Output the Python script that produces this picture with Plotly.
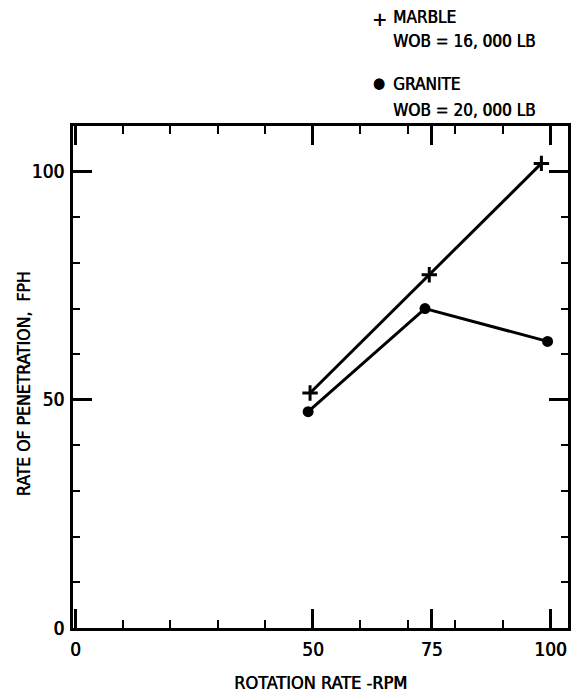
import plotly.graph_objects as go

# Data
rpm_marble = [49.4, 74.5, 98.1]
rop_marble = [51.5, 77.4, 101.8]
rpm_granite = [49.0, 73.6, 99.4]
rop_granite = [47.4, 70.0, 62.8]

marble_name = "MARBLE"
marble_wob = "WOB = 16, 000 LB"
granite_name = "GRANITE"
granite_wob = "WOB = 20, 000 LB"

x_tickvals = [0, 50, 75, 100]
x_ticktext = ["0", "50", "75", "100"]
y_tickvals = [0, 50, 100]
y_ticktext = ["0", "50", "100"]

FONT = "Liberation Sans Narrow, DejaVu Sans Condensed, Arial Narrow, sans-serif"
SH = "0.6px 0px 0px black"
TICKF = dict(family=FONT, size=19, color="black", shadow=SH)
XTF = dict(family=FONT, size=18, color="black", shadow=SH)
YTF = dict(family=FONT, size=17.5, color="black", shadow=SH)
LEGF = dict(family=FONT, size=17, color="black", shadow=SH)

L, T, W, H = 73, 126, 498, 502  # plot area in pixels


def px_x(p):
    return (p - L) / W


def px_y(p):
    return (T + H - p) / H


fig = go.Figure()
fig.add_trace(go.Scatter(
    x=rpm_marble, y=rop_marble, mode="lines+markers", name=marble_name,
    line=dict(color="black", width=3),
    marker=dict(symbol="cross-thin", size=11, color="black", line=dict(color="black", width=3)),
))
fig.add_trace(go.Scatter(
    x=rpm_granite, y=rop_granite, mode="lines+markers", name=granite_name,
    line=dict(color="black", width=3),
    marker=dict(symbol="circle", size=11, color="black"),
))

axis_common = dict(
    showline=True, linecolor="black", linewidth=3, mirror="ticks",
    ticks="inside", ticklen=19, tickwidth=2.5, tickcolor="black",
    showgrid=False, zeroline=False,
    tickfont=TICKF,
)

fig.update_xaxes(
    range=[-0.5, 103.7], tickmode="array", tickvals=x_tickvals, ticktext=x_ticktext,
    minor=dict(dtick=10, tick0=0, ticks="inside", ticklen=8, tickwidth=2, tickcolor="black"),
    title=dict(text="ROTATION RATE -RPM", font=XTF, standoff=18),
    ticklabelstandoff=2,
    **axis_common,
)
fig.update_yaxes(
    range=[0, 110], tickmode="array", tickvals=y_tickvals, ticktext=y_ticktext,
    minor=dict(dtick=10, tick0=0, ticks="inside", ticklen=7, tickwidth=2, tickcolor="black"),
    ticklabelstandoff=2,
    **axis_common,
)

key = [
    ("+", 381, 19, 20),
    (marble_name, 393, 17.5, LEGF["size"]),
    (marble_wob, 393, 41, LEGF["size"]),
    ("\u25CF", 381, 83, 15),
    (granite_name, 393, 84, LEGF["size"]),
    (granite_wob, 393, 110, LEGF["size"]),
]
annotations = []
for txt, xp, yp, sz in key:
    f = dict(LEGF)
    f["size"] = sz
    annotations.append(dict(
        text=txt, x=px_x(xp if txt not in ("+", "\u25CF") else xp), y=px_y(yp),
        xref="paper", yref="paper",
        xanchor="left" if txt not in ("+", "\u25CF") else "center", yanchor="middle",
        showarrow=False, font=f,
    ))
annotations.append(dict(
    text="RATE OF PENETRATION,  FPH", x=px_x(24), y=px_y(384),
    xref="paper", yref="paper", xanchor="center", yanchor="middle",
    textangle=-90, showarrow=False, font=YTF,
))

fig.update_layout(
    width=571, height=694,
    margin=dict(l=L, r=571 - L - W, t=T, b=694 - T - H),
    paper_bgcolor="white", plot_bgcolor="white",
    showlegend=False,
    font=LEGF,
    annotations=annotations,
)

fig.write_html("out.html")
